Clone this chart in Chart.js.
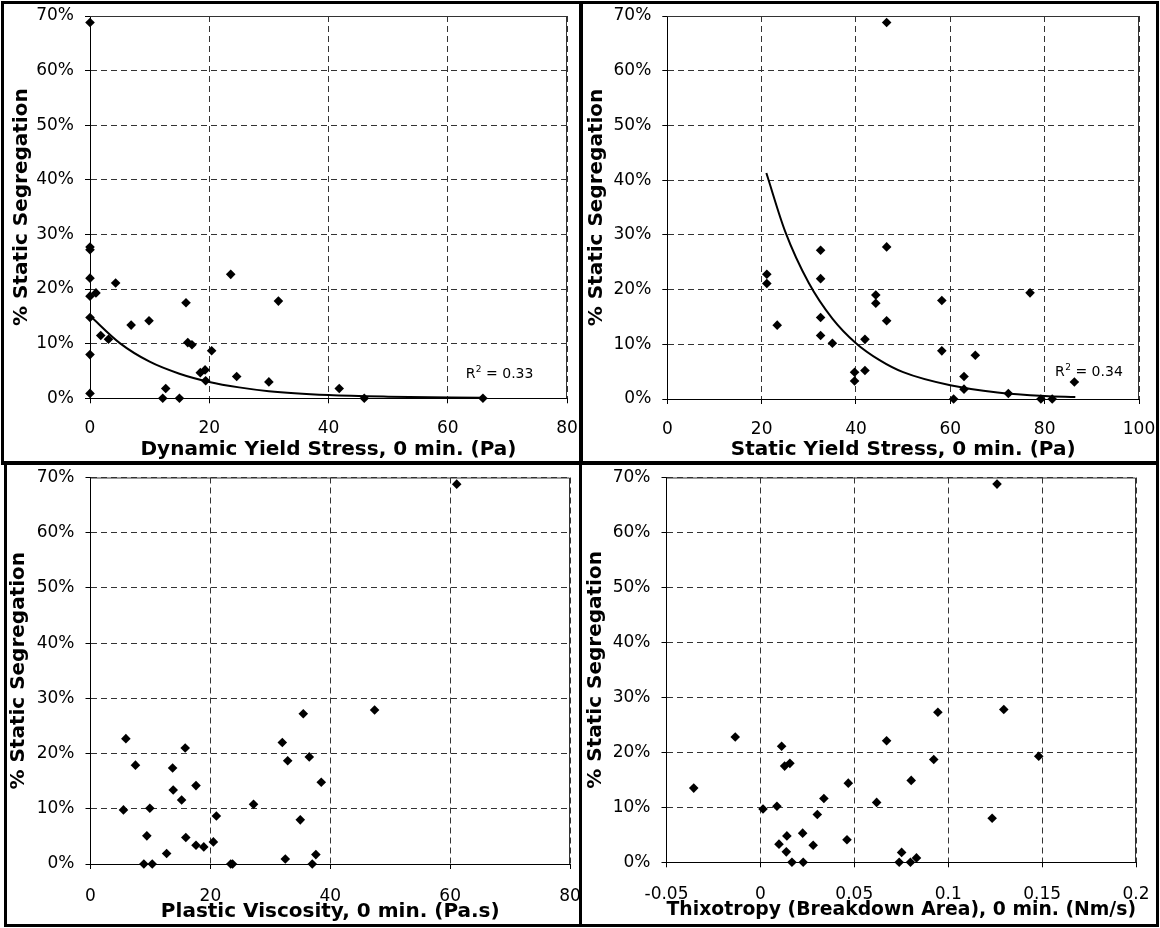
<!DOCTYPE html>
<html>
<head>
<meta charset="utf-8">
<script src="https://cdn.jsdelivr.net/npm/chart.js@4.4.0/dist/chart.umd.min.js"></script>
<style>
  html, body { margin: 0; padding: 0; background: #fff; }
  #wrap { position: relative; width: 1160px; height: 928px; overflow: hidden; }
  canvas { position: absolute; }
  .frame { position: absolute; border: 3px solid #000; box-sizing: border-box; pointer-events: none; }
</style>
</head>
<body>
<div id="wrap">
  <canvas id="c1" width="580" height="462" style="left:0;top:0"></canvas>
  <canvas id="c2" width="580" height="462" style="left:580px;top:0"></canvas>
  <canvas id="c3" width="580" height="466" style="left:0;top:462px"></canvas>
  <canvas id="c4" width="580" height="466" style="left:580px;top:462px"></canvas>
  <div class="frame" style="left:1px;top:1px;width:582px;height:464px"></div>
  <div class="frame" style="left:579px;top:1px;width:580px;height:464px"></div>
  <div class="frame" style="left:4px;top:461px;width:578px;height:466px"></div>
  <div class="frame" style="left:579px;top:461px;width:580px;height:466px"></div>
</div>
<script>
'use strict';

/* ---- data ---- */

// % static segregation, shared y-axis
const segTicks = [0, 10, 20, 30, 40, 50, 60, 70];

// dynamic yield stress, 0 min (Pa)
const dysX   = [0, 0, 0, 0, 0, 1.0, 0, 0, 0, 4.3, 1.8, 3.1, 6.9, 9.9, 16.1, 16.4, 17.1, 12.7, 12.2, 15.0,
                18.5, 19.3, 19.4, 20.4, 23.6, 24.6, 30.0, 31.6, 41.8, 46.0, 65.9];
const dysSeg = [68.8, 27.7, 27.2, 22.0, 18.7, 19.3, 14.8, 8.0, 0.9, 21.1, 11.5, 10.8, 13.4, 14.2, 17.5, 10.2, 9.8, 1.8, 0, 0,
                4.7, 5.2, 3.2, 8.7, 22.7, 4.0, 3.0, 17.8, 1.8, 0, 0];
const dysFitX = [0, 5, 10, 15, 20, 25, 30, 40, 50, 65.9];
const dysFitY = [15.1, 10.1, 6.7, 4.5, 3.0, 2.0, 1.3, 0.6, 0.3, 0.1];

// static yield stress, 0 min (Pa)
const sysX   = [21.1, 21.1, 23.3, 32.5, 32.5, 32.5, 32.5, 35.0, 39.7, 39.7, 41.9, 41.9, 44.2, 44.2, 46.5, 46.5,
                58.2, 58.2, 65.3, 62.9, 62.9, 60.7, 72.3, 76.9, 79.2, 81.6, 86.3, 46.5];
const sysSeg = [22.8, 21.1, 13.5, 27.2, 22.0, 14.9, 11.6, 10.2, 4.9, 3.3, 10.9, 5.2, 19.0, 17.5, 27.8, 14.3,
                18.0, 8.8, 8.0, 4.1, 1.8, 0, 1.0, 19.4, 0, 0, 3.1, 68.8];
const sysFitX = [21, 25, 30, 35, 40, 45, 50, 60, 70, 80, 86.5];
const sysFitY = [41.3, 30.6, 21.2, 14.7, 10.2, 7.1, 4.9, 2.5, 1.2, 0.55, 0.35];

// plastic viscosity, 0 min (Pa.s)
const pvX   = [5.9, 7.5, 5.5, 9.9, 9.4, 8.9, 10.3, 12.7, 13.7, 13.8, 15.2, 15.8, 15.9, 17.6, 17.6, 18.9,
               20.5, 21.0, 23.4, 23.7, 27.2, 32.0, 32.9, 32.5, 35.5, 36.5, 38.5, 35.0, 37.6, 37.0, 47.4, 61.1];
const pvSeg = [22.7, 17.9, 9.8, 10.1, 5.1, 0, 0, 1.9, 17.4, 13.4, 11.6, 21.0, 4.8, 14.2, 3.4, 3.1,
               4.0, 8.7, 0, 0, 10.8, 22.0, 18.7, 0.9, 27.2, 19.4, 14.8, 8.0, 1.7, 0, 27.9, 68.8];

// thixotropy (breakdown area), 0 min (Nm/s)
const thxX   = [-0.0355, -0.0134, 0.0113, 0.0129, 0.0157, 0.0014, 0.0088, 0.0099, 0.0141, 0.0138, 0.0168, 0.0228,
                0.0225, 0.0281, 0.0303, 0.0338, 0.0468, 0.0461, 0.0619, 0.0672, 0.0803, 0.0923, 0.0945, 0.1296,
                0.1482, 0.1234, 0.0752, 0.0739, 0.0799, 0.0831, 0.126];
const thxSeg = [13.5, 22.8, 21.1, 17.5, 18.0, 9.7, 10.2, 3.3, 4.8, 1.9, 0, 0,
                5.3, 3.1, 8.7, 11.6, 14.4, 4.1, 10.9, 22.1, 14.9, 18.7, 27.3, 27.8,
                19.3, 8.0, 1.8, 0, 0, 0.8, 68.8];

/* ---- styling ---- */

const FONT = '"DejaVu Sans", "Liberation Sans", Arial, sans-serif';
const GRID = '#333';

const pairs = (xs, ys) => xs.map((x, i) => ({ x, y: ys[i] }));

// top and right edge of the plot area
const plotFrame = {
  id: 'plotFrame',
  beforeDatasetsDraw(chart) {
    const { ctx, chartArea: a } = chart;
    ctx.save();
    ctx.strokeStyle = '#333';
    ctx.lineWidth = 1;
    ctx.beginPath();
    ctx.moveTo(a.left, a.top + 0.5);
    ctx.lineTo(a.right - 0.5, a.top + 0.5);
    ctx.lineTo(a.right - 0.5, a.bottom);
    ctx.stroke();
    ctx.restore();
  }
};

// "R² = x" trendline note
const r2Label = {
  id: 'r2label',
  afterDatasetsDraw(chart, args, opts) {
    if (!opts || opts.value == null) return;
    const { ctx, scales: { x, y } } = chart;
    const px = x.getPixelForValue(opts.x), py = y.getPixelForValue(opts.y);
    ctx.save();
    ctx.fillStyle = '#000';
    ctx.textBaseline = 'alphabetic';
    ctx.font = '14px ' + FONT;
    ctx.fillText('R', px, py);
    let w = ctx.measureText('R').width + 0.5;
    ctx.font = '9px ' + FONT;
    ctx.fillText('2', px + w, py - 6);
    w += ctx.measureText('2').width;
    ctx.font = '14px ' + FONT;
    ctx.fillText(' = ' + opts.value, px + w, py);
    ctx.restore();
  }
};

function makeChart(id, o) {
  const datasets = [{
    data: pairs(o.xs, o.ys),
    pointStyle: 'rectRot',
    pointRadius: 4.8,
    pointBorderWidth: 0,
    backgroundColor: '#000',
    borderColor: '#000',
    clip: false,
  }];
  if (o.fitX) {
    datasets.push({
      type: 'line',
      data: pairs(o.fitX, o.fitY),
      borderColor: '#000',
      borderWidth: 2,
      pointRadius: 0,
      fill: false,
      showLine: true,
      cubicInterpolationMode: 'monotone',
      clip: false,
    });
  }

  const axisBase = {
    type: 'linear',
    border: { display: true, color: '#000', width: 1, dash: [6, 4] },
    grid: { color: GRID, lineWidth: 1, drawTicks: true, tickLength: 5, tickColor: '#000', tickBorderDash: [] },
  };

  return new Chart(document.getElementById(id), {
    type: 'scatter',
    data: { datasets },
    options: {
      responsive: false,
      animation: false,
      events: [],
      layout: { padding: { top: o.top, right: o.right, left: 0, bottom: 0 } },
      plugins: {
        legend: { display: false },
        tooltip: { enabled: false },
        r2label: o.r2 || {},
      },
      scales: {
        x: {
          ...axisBase,
          min: o.xMin, max: o.xMax,
          afterFit: s => { s.height = o.xH; s.paddingLeft = 0; s.paddingRight = 0; },
          ticks: {
            stepSize: o.xStep,
            color: '#000',
            padding: o.xTickPad,
            maxRotation: 0,
            font: { family: FONT, size: 17 },
            callback: v => String(Math.round(v * 100) / 100),
          },
          title: {
            display: true,
            text: o.xTitle,
            color: '#000',
            font: { family: FONT, size: 20, weight: 'bold' },
            padding: { top: 0, bottom: o.xTitlePad },
          },
        },
        y: {
          ...axisBase,
          min: 0, max: 70,
          afterFit: s => { s.width = o.yW; s.paddingTop = 0; s.paddingBottom = 0; },
          afterBuildTicks: s => { s.ticks = segTicks.map(v => ({ value: v })); },
          ticks: {
            color: '#000',
            padding: 11,
            font: { family: FONT, size: 17 },
            callback: v => v + '%',
          },
          title: {
            display: true,
            text: '% Static Segregation',
            color: '#000',
            font: { family: FONT, size: 20, weight: 'bold' },
            padding: { top: o.yTitlePad, bottom: 0 },
          },
        },
      },
    },
    plugins: [plotFrame, r2Label],
  });
}

makeChart('c1', {
  xs: dysX, ys: dysSeg, fitX: dysFitX, fitY: dysFitY,
  xMin: 0, xMax: 80, xStep: 20, xTitle: 'Dynamic Yield Stress, 0 min. (Pa)',
  top: 16, right: 13, xH: 63.7, yW: 90, xTickPad: 15, xTitlePad: 0, yTitlePad: 10,
  r2: { x: 63.0, y: 3.8, value: '0.33' },
});

makeChart('c2', {
  xs: sysX, ys: sysSeg, fitX: sysFitX, fitY: sysFitY,
  xMin: 0, xMax: 100, xStep: 20, xTitle: 'Static Yield Stress, 0 min. (Pa)',
  top: 16, right: 21, xH: 63, yW: 87.3, xTickPad: 15, xTitlePad: 0, yTitlePad: 5,
  r2: { x: 82.2, y: 4.2, value: '0.34' },
});

makeChart('c3', {
  xs: pvX, ys: pvSeg,
  xMin: 0, xMax: 80, xStep: 20, xTitle: 'Plastic Viscosity, 0 min. (Pa.s)',
  top: 15.5, right: 10, xH: 64, yW: 90.5, xTickPad: 17, xTitlePad: 4, yTitlePad: 7,
});

makeChart('c4', {
  xs: thxX, ys: thxSeg,
  xMin: -0.05, xMax: 0.2, xStep: 0.05, xTitle: 'Thixotropy (Breakdown Area), 0 min. (Nm/s)',
  top: 15.5, right: 24, xH: 65.7, yW: 86.5, xTickPad: 17, xTitlePad: 6, yTitlePad: 4,
});
</script>
</body>
</html>
